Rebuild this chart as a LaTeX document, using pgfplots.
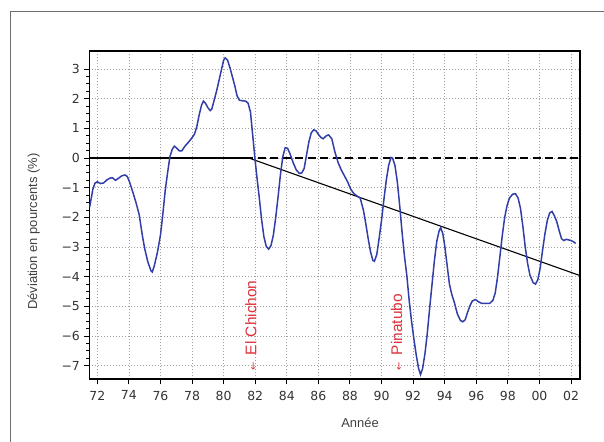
\documentclass[border=0pt]{standalone}
\usepackage{pgfplots}
\pgfplotsset{compat=1.18}
\usepackage{pgfplotstable}
\usepackage{fontspec}
\setmainfont{Liberation Sans}
\newfontfamily\dejavu{DejaVu Sans}
\definecolor{curveblue}{RGB}{50,62,168}
\definecolor{annred}{RGB}{220,50,60}
\definecolor{gridgray}{RGB}{160,160,160}
\definecolor{framegray}{RGB}{110,110,110}

\pgfplotstableread{
year val
1971.51 -1.66
1971.62 -1.35
1971.72 -1.05
1971.85 -0.85
1972.00 -0.80
1972.20 -0.86
1972.40 -0.84
1972.60 -0.74
1972.80 -0.68
1972.95 -0.66
1973.15 -0.75
1973.35 -0.68
1973.55 -0.60
1973.75 -0.57
1973.90 -0.62
1974.05 -0.82
1974.25 -1.15
1974.45 -1.50
1974.65 -1.90
1974.85 -2.60
1975.00 -3.05
1975.20 -3.50
1975.40 -3.80
1975.48 -3.84
1975.60 -3.65
1975.80 -3.20
1976.00 -2.60
1976.15 -1.90
1976.30 -1.10
1976.45 -0.50
1976.60 0.05
1976.75 0.30
1976.88 0.40
1977.00 0.35
1977.20 0.24
1977.35 0.24
1977.55 0.40
1977.75 0.52
1977.95 0.65
1978.15 0.80
1978.30 1.05
1978.45 1.45
1978.60 1.78
1978.72 1.92
1978.85 1.85
1979.00 1.70
1979.15 1.60
1979.25 1.65
1979.40 1.95
1979.55 2.25
1979.70 2.60
1979.85 2.95
1980.00 3.30
1980.10 3.38
1980.25 3.30
1980.40 3.05
1980.55 2.75
1980.70 2.45
1980.85 2.10
1981.00 1.95
1981.20 1.93
1981.40 1.92
1981.55 1.85
1981.70 1.55
1981.80 1.00
1981.90 0.45
1982.00 -0.10
1982.10 -0.60
1982.25 -1.30
1982.40 -2.05
1982.55 -2.65
1982.70 -2.98
1982.85 -3.07
1983.00 -2.95
1983.15 -2.60
1983.30 -2.00
1983.45 -1.30
1983.60 -0.55
1983.75 0.05
1983.90 0.35
1984.05 0.33
1984.20 0.15
1984.40 -0.15
1984.60 -0.40
1984.80 -0.52
1984.95 -0.50
1985.10 -0.35
1985.25 0.10
1985.40 0.55
1985.55 0.85
1985.70 0.95
1985.85 0.92
1986.00 0.80
1986.15 0.70
1986.30 0.65
1986.50 0.75
1986.65 0.78
1986.85 0.65
1987.05 0.20
1987.25 -0.15
1987.45 -0.40
1987.65 -0.60
1987.85 -0.80
1988.05 -1.05
1988.25 -1.20
1988.45 -1.28
1988.65 -1.35
1988.85 -1.75
1989.00 -2.20
1989.15 -2.70
1989.30 -3.15
1989.45 -3.45
1989.55 -3.48
1989.70 -3.25
1989.85 -2.70
1990.00 -2.10
1990.15 -1.40
1990.30 -0.75
1990.45 -0.25
1990.60 0.02
1990.70 0.00
1990.85 -0.25
1991.00 -0.80
1991.15 -1.60
1991.30 -2.50
1991.45 -3.30
1991.60 -3.95
1991.75 -4.80
1991.90 -5.50
1992.05 -6.10
1992.20 -6.65
1992.35 -7.10
1992.47 -7.30
1992.60 -7.10
1992.75 -6.60
1992.90 -5.90
1993.05 -5.05
1993.20 -4.25
1993.35 -3.45
1993.50 -2.80
1993.65 -2.45
1993.75 -2.35
1993.88 -2.55
1994.00 -2.95
1994.15 -3.60
1994.30 -4.25
1994.45 -4.60
1994.60 -4.85
1994.80 -5.25
1995.00 -5.48
1995.15 -5.52
1995.30 -5.45
1995.45 -5.20
1995.60 -4.98
1995.75 -4.82
1995.95 -4.77
1996.15 -4.85
1996.35 -4.90
1996.60 -4.90
1996.85 -4.90
1997.05 -4.80
1997.20 -4.55
1997.35 -4.00
1997.50 -3.30
1997.65 -2.60
1997.80 -2.00
1997.95 -1.60
1998.10 -1.35
1998.30 -1.22
1998.48 -1.20
1998.65 -1.35
1998.80 -1.70
1998.95 -2.30
1999.10 -3.00
1999.25 -3.55
1999.40 -3.95
1999.60 -4.20
1999.75 -4.25
1999.90 -4.10
2000.05 -3.70
2000.20 -3.10
2000.35 -2.55
2000.50 -2.10
2000.65 -1.85
2000.80 -1.80
2000.95 -1.95
2001.10 -2.15
2001.25 -2.45
2001.40 -2.72
2001.55 -2.78
2001.70 -2.74
2001.85 -2.76
2002.00 -2.78
2002.15 -2.82
2002.30 -2.88
}\devdata

\begin{document}
\begin{tikzpicture}
\useasboundingbox (0,0) rectangle (604bp,442bp);
\draw[line width=1.3bp, framegray] (10.8bp,0bp) -- (10.8bp,430.3bp) -- (604bp,430.3bp);
\begin{axis}[
  at={(89.4bp,62.7bp)}, anchor=south west,
  scale only axis, width=490.3bp, height=328.3bp,
  xmin=1971.5, xmax=2002.55, ymin=-7.46, ymax=3.61,
  axis line style={line width=1.8bp, black},
  tick align=outside, tick pos=left,
  major tick length=5bp, minor tick length=3bp,
  every tick/.style={black, line width=0.9bp},
  xtick={1972,1974,...,2002},
  xticklabels={72,74,76,78,80,82,84,86,88,90,92,94,96,98,00,02},
  minor x tick num=1,
  ytick={-7,-6,...,3},
  yticklabels={−7,−6,−5,−4,−3,−2,−1,0,1,2,3},
  minor y tick num=3,
  xmajorgrids, xminorgrids, ymajorgrids,
  major grid style={gridgray, line width=0.6bp, dash pattern=on 0.8bp off 2.2bp},
  minor grid style={gridgray, line width=0.6bp, dash pattern=on 0.8bp off 2.2bp},
  tick label style={font=\dejavu\fontsize{12.5}{14}\selectfont, text=black!80},
  xticklabel style={yshift=-3bp},
  yticklabel style={xshift=-1bp},
  xlabel={Année}, ylabel={Déviation en pourcents (\%)},
  label style={font=\fontsize{13}{15}\selectfont, text=black!75},
  xlabel style={at={(axis description cs:0.552,-0.133)}, anchor=center},
  ylabel style={at={(axis description cs:-0.1136,0.4496)}, anchor=center},
]
\addplot[black, line width=1.8bp] coordinates {(1971.5,0) (1981.85,0)};
\addplot[black, line width=1.8bp, dash pattern=on 8bp off 4.5bp] coordinates {(1982.15,0) (2002.55,0)};
\addplot[black, line width=1.1bp] coordinates {(1981.6,0) (2002.55,-3.96)};
\addplot[curveblue, line width=1.5bp] table[x=year, y=val] {\devdata};
\node[rotate=90, anchor=west, inner sep=0pt, text=annred, font=\fontsize{15.5}{17}\selectfont]
  at (axis cs:1981.73,-7.17) {{\dejavu\fontsize{10}{10}\selectfont ←}\hspace{7bp}El Chichon};
\node[rotate=90, anchor=west, inner sep=0pt, text=annred, font=\fontsize{15.5}{17}\selectfont]
  at (axis cs:1990.95,-7.17) {{\dejavu\fontsize{10}{10}\selectfont ←}\hspace{7bp}Pinatubo};
\end{axis}
\end{tikzpicture}
\end{document}
